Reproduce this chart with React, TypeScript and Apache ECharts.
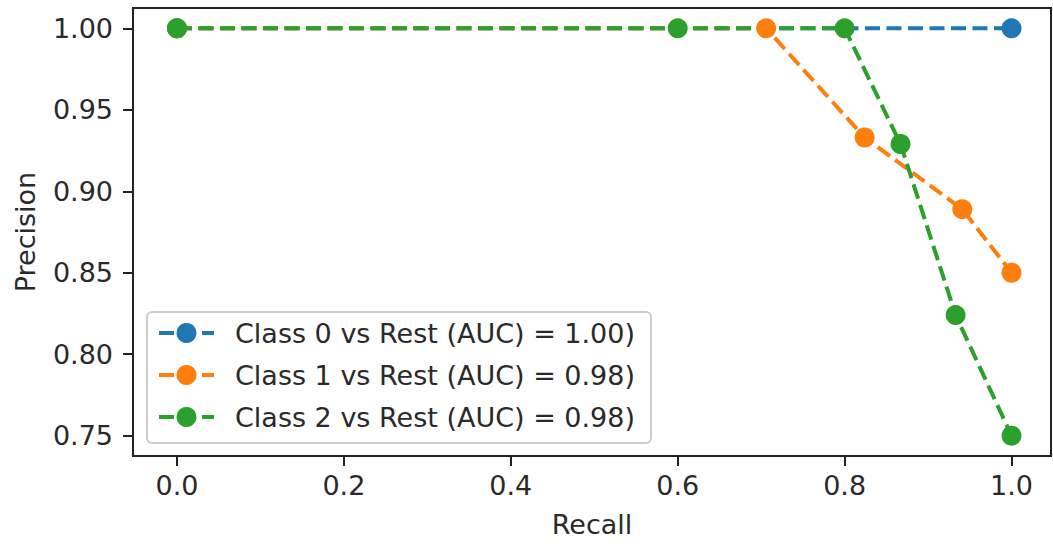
import React, { useEffect, useRef } from "react";
import * as echarts from "echarts";

const seriesNames = [
  "Class 0 vs Rest (AUC) = 1.00)",
  "Class 1 vs Rest (AUC) = 0.98)",
  "Class 2 vs Rest (AUC) = 0.98)",
];
const colors = ["#1f77b4", "#ff7f0e", "#2ca02c"];

const recall0 = [0, 1.0];
const precision0 = [1.0, 1.0];

const recall1 = [0, 0.706, 0.824, 0.941, 1.0];
const precision1 = [1.0, 1.0, 0.933, 0.889, 0.85];

const recall2 = [0, 0.6, 0.8, 0.867, 0.933, 1.0];
const precision2 = [1.0, 1.0, 1.0, 0.929, 0.824, 0.75];

const xTicks = [0, 0.2, 0.4, 0.6, 0.8, 1.0];
const yTicks = [0.75, 0.8, 0.85, 0.9, 0.95, 1.0];

const FONT = "DejaVu Sans";
const TEXT = "#2a2a2a";
const FS = 27;

const pair = (xs: number[], ys: number[]) => xs.map((x, i) => [x, ys[i]]);

export default function App() {
  const ref = useRef<HTMLDivElement>(null);
  useEffect(() => {
    if (!ref.current) return;
    const chart = echarts.init(ref.current, undefined, { renderer: "svg" });
    const datas = [
      pair(recall0, precision0),
      pair(recall1, precision1),
      pair(recall2, precision2),
    ];
    chart.setOption({
      animation: false,
      backgroundColor: "#fff",
      textStyle: { fontFamily: FONT },
      grid: {
        left: 133,
        right: 2,
        top: 8,
        bottom: 89,
        show: true,
        borderColor: "#222",
        borderWidth: 2,
        backgroundColor: "transparent",
      },
      xAxis: {
        type: "value",
        min: -0.0527,
        max: 1.0473,
        name: "Recall",
        nameLocation: "middle",
        nameGap: 55,
        nameTextStyle: { fontSize: FS, color: TEXT, fontFamily: FONT },
        axisLine: { show: true, onZero: false, lineStyle: { color: "#222", width: 2 } },
        axisTick: { show: true, length: 10, lineStyle: { color: "#222", width: 2 }, customValues: xTicks },
        axisLabel: {
          fontSize: FS,
          color: TEXT,
          fontFamily: FONT,
          margin: 16,
          customValues: xTicks,
          formatter: (v: number) => v.toFixed(1),
        },
        splitLine: { show: false },
      },
      yAxis: {
        type: "value",
        min: 0.7375,
        max: 1.0125,
        name: "Precision",
        nameLocation: "middle",
        nameGap: 94,
        nameRotate: 90,
        nameTextStyle: { fontSize: FS, color: TEXT, fontFamily: FONT },
        axisLine: { show: true, onZero: false, lineStyle: { color: "#222", width: 2 } },
        axisTick: { show: true, length: 10, lineStyle: { color: "#222", width: 2 }, customValues: yTicks },
        axisLabel: {
          fontSize: FS,
          color: TEXT,
          fontFamily: FONT,
          margin: 20,
          customValues: yTicks,
          formatter: (v: number) => v.toFixed(2),
        },
        splitLine: { show: false },
      },
      legend: {
        orient: "vertical",
        left: 147,
        top: 312,
        itemWidth: 55,
        itemHeight: 25,
        itemGap: 12,
        padding: [6, 16, 11, 10],
        backgroundColor: "rgba(255,255,255,0.8)",
        borderColor: "#cccccc",
        borderWidth: 2,
        borderRadius: 5,
        lineStyle: { width: 4 },
        textStyle: {
          fontSize: FS,
          color: TEXT,
          fontFamily: FONT,
          lineHeight: 30,
          padding: [0, 0, 0, 16],
        },
        data: seriesNames,
      },
      series: datas.map((d, i) => ({
        name: seriesNames[i],
        type: "line",
        data: d,
        symbol: "circle",
        symbolSize: 20,
        showSymbol: true,
        color: colors[i],
        itemStyle: { color: colors[i] },
        lineStyle: { color: colors[i], width: 4, type: [15, 6.5] },
        emphasis: { disabled: true },
      })),
    });
    return () => chart.dispose();
  }, []);
  return (
    <div
      ref={ref}
      style={{ position: "fixed", left: 0, top: 0, width: 1053, height: 545 }}
    />
  );
}
